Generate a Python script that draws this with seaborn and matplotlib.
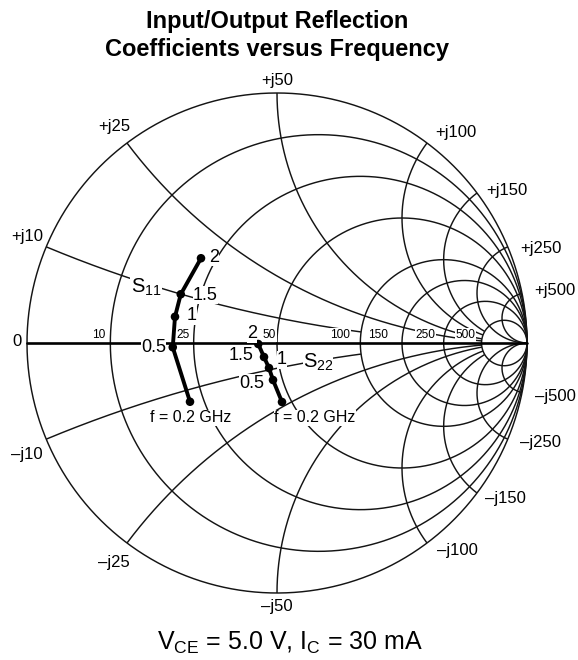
import numpy as np
import matplotlib
matplotlib.use("Agg")
import matplotlib.pyplot as plt
import seaborn as sns
import pandas as pd

# ---- data -------------------------------------------------------------
freqs_ghz = [0.2, 0.5, 1.0, 1.5, 2.0]
# reflection coefficients (real, imag)
s11_re = [-0.348, -0.417, -0.408, -0.385, -0.304]
s11_im = [-0.235, -0.017, 0.105, 0.195, 0.339]
s22_re = [0.020, -0.016, -0.032, -0.052, -0.075]
s22_im = [-0.236, -0.148, -0.100, -0.056, -0.004]

z0 = 50.0
resistances = [10, 25, 50, 100, 150, 250, 500]          # ohms
reactances = [10, 25, 50, 100, 150, 250, 500]           # ohms
# how far (in normalised resistance) each reactance arc is drawn
reactance_reach = {10: 2, 25: 10, 50: 10, 100: 10, 150: 10, 250: np.inf, 500: np.inf}

# ---- figure -----------------------------------------------------------
sns.set_theme(style="white")
plt.rcParams["font.family"] = ["Liberation Sans", "DejaVu Sans"]
plt.rcParams["mathtext.fontset"] = "custom"
plt.rcParams["mathtext.rm"] = "Liberation Sans"
plt.rcParams["text.color"] = "black"

W, H = 578, 660
fig = plt.figure(figsize=(W / 100, H / 100), dpi=100)
ax = fig.add_axes([0, 0, 1, 1])
cx, cy, sx, sy = 277.0, 343.0, 250.0, 250.0
ax.set_xlim(-cx / sx, (W - cx) / sx)
ax.set_ylim(-(H - cy) / sy, cy / sy)
ax.set_axis_off()

grid_kw = dict(color="#141414", lw=1.05, solid_capstyle="butt", zorder=1)


def gamma(z):
    return (z - 1) / (z + 1)


def px(x, y):
    """pixel position -> data position"""
    return (x - cx) / sx, (cy - y) / sy


# outer circle
t = np.linspace(0, 2 * np.pi, 800)
ax.plot(np.cos(t), np.sin(t), **grid_kw)

# constant-resistance circles
u = np.linspace(-np.pi / 2 + 1e-4, np.pi / 2 - 1e-4, 1500)
for R in resistances:
    g = gamma(R / z0 + 1j * np.tan(u))
    ax.plot(g.real, g.imag, **grid_kw)

# constant-reactance arcs
for X in reactances:
    rmax = reactance_reach[X]
    top = np.arctan(rmax) if np.isfinite(rmax) else np.pi / 2 - 1e-4
    v = np.linspace(0, top, 800)
    for sgn in (1, -1):
        g = gamma(np.tan(v) + 1j * sgn * X / z0)
        ax.plot(g.real, g.imag, **grid_kw)

# real axis
ax.plot([-1, 1], [0, 0], color="black", lw=1.9, zorder=1)

# ---- grid labels --------------------------------------------------------
box = dict(fc="white", ec="none", pad=0.4)
res_label_right = {10: 105, 25: 190, 50: 276, 100: 350, 150: 388, 250: 435, 500: 475}
for R in resistances:
    ax.text(*px(res_label_right[R], 338), str(R), fontsize=8.6, ha="right",
            va="baseline", zorder=3, bbox=box)

react_pos = {
    "+j50": (277, 81), "+j25": (114, 127), "+j100": (456, 133), "+j150": (507, 190),
    "+j250": (541, 248), "+j500": (555, 290), "+j10": (27, 237), "0": (17, 341),
    "\u2013j500": (555, 396), "\u2013j250": (540, 442), "\u2013j150": (505, 498),
    "\u2013j100": (457, 551), "\u2013j50": (277, 606), "\u2013j25": (114, 562),
    "\u2013j10": (27, 454),
}
for txt, (x, y) in react_pos.items():
    ax.text(*px(x, y), txt, fontsize=12, ha="center", va="center", zorder=3)

# ---- S-parameter traces --------------------------------------------------
df = pd.DataFrame({
    "f": freqs_ghz * 2,
    "re": s11_re + s22_re,
    "im": s11_im + s22_im,
    "param": ["S11"] * 5 + ["S22"] * 5,
})
sns.lineplot(data=df, x="re", y="im", units="param", estimator=None, sort=False,
             color="black", lw=2.8, ax=ax, zorder=4, legend=False)
sns.scatterplot(data=df, x="re", y="im", color="black", s=38, edgecolor="none",
                ax=ax, zorder=5, legend=False)
ax.set_xlabel("")
ax.set_ylabel("")

lab = dict(fontsize=13, zorder=6, va="center")
lbox = dict(fc="white", ec="none", pad=0.2)
# S11 frequency marks
ax.text(*px(209, 257), "2", ha="left", bbox=lbox, **lab)
ax.text(*px(193, 295), "1.5", ha="left", bbox=lbox, **lab)
ax.text(*px(187, 316), "1", ha="left", bbox=lbox, **lab)
ax.text(*px(166, 347), "0.5", ha="right", bbox=lbox, **lab)
ax.text(*px(191, 418), "f = 0.2 GHz", ha="center", bbox=lbox,
        **{**lab, "fontsize": 11.5})
ax.text(*px(146, 287), r"S$_{11}$", ha="center", fontsize=14.5, zorder=6,
        va="center", bbox=lbox)
# S22 frequency marks
ax.text(*px(257, 334), "2", ha="right", bbox=lbox, **lab)
ax.text(*px(253, 356), "1.5", ha="right", bbox=lbox, **lab)
ax.text(*px(277, 360), "1", ha="left", bbox=lbox, **lab)
ax.text(*px(264, 383), "0.5", ha="right", bbox=lbox, **lab)
ax.text(*px(315, 418), "f = 0.2 GHz", ha="center", bbox=lbox,
        **{**lab, "fontsize": 11.5})
ax.text(*px(318, 362), r"S$_{22}$", ha="center", fontsize=14.5, zorder=6,
        va="center", bbox=lbox)

# ---- titles ---------------------------------------------------------------
fig.text(277 / W, 1 - 28 / H, "Input/Output Reflection", ha="center",
         va="baseline", fontsize=17, fontweight="bold")
fig.text(277 / W, 1 - 56 / H, "Coefficients versus Frequency", ha="center",
         va="baseline", fontsize=17, fontweight="bold")
fig.text(290 / W, 1 - 650 / H, r"V$_{\rm CE}$ = 5.0 V, I$_{\rm C}$ = 30 mA",
         ha="center", va="baseline", fontsize=18)

fig.savefig("out.png", dpi=100)
